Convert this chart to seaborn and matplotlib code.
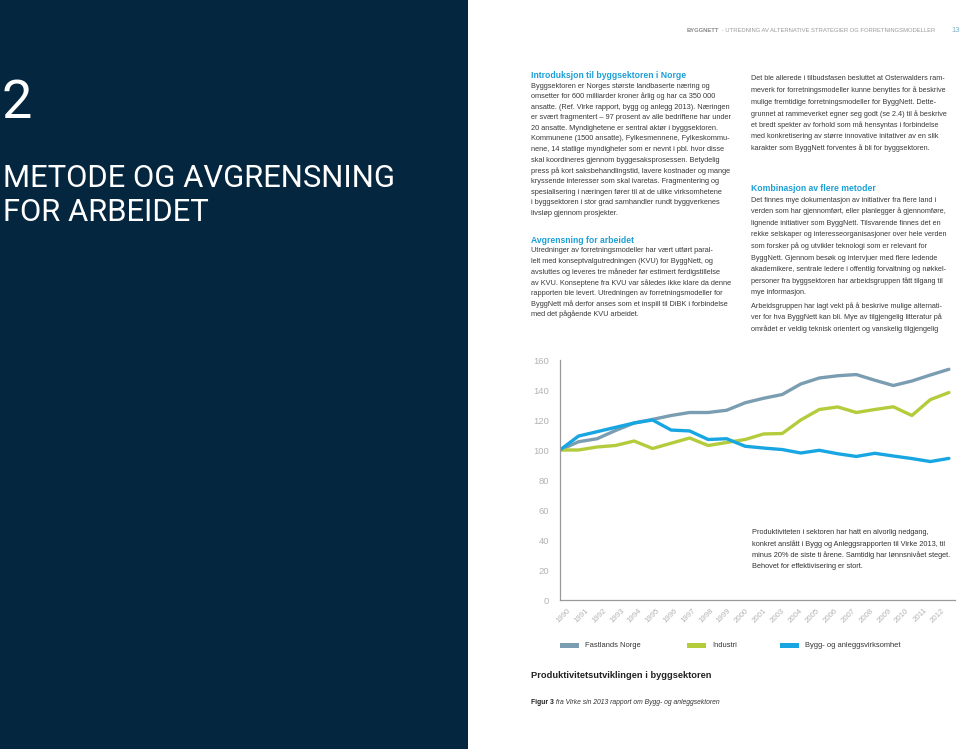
import matplotlib
matplotlib.use("Agg")
import matplotlib.pyplot as plt
from matplotlib.patches import Rectangle
import seaborn as sns
import pandas as pd
import numpy as np

# ---------------- data ----------------
years = ["1990", "1991", "1992", "1993", "1994", "1995", "1996", "1997", "1998", "1999",
         "2000", "2001", "2003", "2004", "2005", "2006", "2007", "2008", "2009", "2010",
         "2011", "2012"]
series_names = ["Fastlands Norge", "Industri", "Bygg- og anleggsvirksomhet"]
fastlands = [100, 105.5, 107.5, 113, 118, 120.4, 123, 125, 125, 126.5, 131.5, 134.5,
             137, 144, 148, 149.5, 150.3, 146.5, 143, 146, 150, 153.8]
industri = [100, 100, 102, 103, 106, 101, 104.5, 108, 103, 105, 107, 110.7,
            111, 120, 127, 128.7, 125, 127, 128.8, 123, 133.6, 138.3]
bygg = [100, 109.3, 112.2, 115.1, 118, 120, 113.3, 112.7, 107, 107.5, 102.5, 101.3,
        100.3, 98, 99.8, 97.5, 95.7, 97.8, 96, 94.3, 92.3, 94.4]
colors = ["#7b9db2", "#b4cc3c", "#18a6e2"]
yticks = [0, 20, 40, 60, 80, 100, 120, 140, 160]

W, H = 960, 749
fig = plt.figure(figsize=(9.6, 7.49), dpi=100)
sns.set_style("white")
plt.rcParams["font.family"] = ["Liberation Sans", "DejaVu Sans"]
renderer = fig.canvas.get_renderer()

def fx(x):
    return x / W

def fy(y):
    return 1 - y / H

def run_texts(x, y, parts):
    """Place several text pieces one after another on one line."""
    cur = x
    for txt, kw in parts:
        t = fig.text(fx(cur), fy(y), txt, va="center", ha="left", **kw)
        bb = t.get_window_extent(renderer=renderer)
        cur = cur + bb.width

# ---------------- left navy panel ----------------
fig.patches.append(Rectangle((0, 0), fx(468), 1, transform=fig.transFigure,
                             facecolor="#05263f", edgecolor="none", zorder=0))
fig.text(fx(2), fy(118), "2", color="white", fontsize=39, family=["Roboto", "Liberation Sans"],
         va="baseline", ha="left")
fig.text(fx(3), fy(187), "METODE OG AVGRENSNING", color="white", fontsize=22.3,
         family=["Roboto", "Liberation Sans"], va="baseline", ha="left")
fig.text(fx(3), fy(221), "FOR ARBEIDET", color="white", fontsize=22.3,
         family=["Roboto", "Liberation Sans"], va="baseline", ha="left")

# ---------------- header ----------------
run_texts(687, 30, [("BYGGNETT", dict(color="#8a8a8a", fontsize=4.25, fontweight="bold")),
                    (" - UTREDNING AV ALTERNATIVE STRATEGIER OG FORRETNINGSMODELLER",
                     dict(color="#9a9a9a", fontsize=4.25))])
fig.text(fx(951), fy(30), "13", color="#7fb3c6", fontsize=5.5, va="center", ha="left")

# ---------------- body text ----------------
blue_head = "#1c9fd6"
body_col = "#3a3a3a"

left1 = ["Byggsektoren er Norges største landbaserte næring og",
         "omsetter for 600 milliarder kroner årlig og har ca 350 000",
         "ansatte. (Ref. Virke rapport, bygg og anlegg 2013). Næringen",
         "er svært fragmentert – 97 prosent av alle bedriftene har under",
         "20 ansatte. Myndighetene er sentral aktør i byggsektoren.",
         "Kommunene (1500 ansatte), Fylkesmennene, Fylkeskommu-",
         "nene, 14 statlige myndigheter som er nevnt i pbl. hvor disse",
         "skal koordineres gjennom byggesaksprosessen. Betydelig",
         "press på kort saksbehandlingstid, lavere kostnader og mange",
         "kryssende interesser som skal ivaretas. Fragmentering og",
         "spesialisering i næringen fører til at de ulike virksomhetene",
         "i byggsektoren i stor grad samhandler rundt byggverkenes",
         "livsløp gjennom prosjekter."]
left2 = ["Utredninger av forretningsmodeller har vært utført paral-",
         "lelt med konseptvalgutredningen (KVU) for ByggNett, og",
         "avsluttes og leveres tre måneder før estimert ferdigstillelse",
         "av KVU. Konseptene fra KVU var således ikke klare da denne",
         "rapporten ble levert. Utredningen av forretningsmodeller for",
         "ByggNett må derfor anses som et inspill til DiBK i forbindelse",
         "med det pågående KVU arbeidet."]
right1 = ["Det ble allerede i tilbudsfasen besluttet at Osterwalders ram-",
          "meverk for forretningsmodeller kunne benyttes for å beskrive",
          "mulige fremtidige forretningsmodeller for ByggNett. Dette-",
          "grunnet at rammeverket egner seg godt (se 2.4) til å beskrive",
          "et bredt spekter av forhold som må hensyntas i forbindelse",
          "med konkretisering av større innovative initativer av en slik",
          "karakter som ByggNett forventes å bli for byggsektoren."]
right2 = ["Det finnes mye dokumentasjon av initiativer fra flere land i",
          "verden som har gjennomført, eller planlegger å gjennomføre,",
          "lignende initiativer som ByggNett. Tilsvarende finnes det en",
          "rekke selskaper og interesseorganisasjoner over hele verden",
          "som forsker på og utvikler teknologi som er relevant for",
          "ByggNett. Gjennom besøk og intervjuer med flere ledende",
          "akademikere, sentrale ledere i offentlig forvaltning og nøkkel-",
          "personer fra byggsektoren har arbeidsgruppen fått tilgang til",
          "mye informasjon."]
right3 = ["Arbeidsgruppen har lagt vekt på å beskrive mulige alternati-",
          "ver for hva ByggNett kan bli. Mye av tilgjengelig litteratur på",
          "området er veldig teknisk orientert og vanskelig tilgjengelig"]

def lines(x, y0, dy, txts, size=5.3, color=body_col):
    for i, t in enumerate(txts):
        fig.text(fx(x), fy(y0 + i * dy), t, fontsize=size, color=color,
                 va="center", ha="left")

fig.text(fx(531), fy(75), "Introduksjon til byggsektoren i Norge", fontsize=6.2,
         color=blue_head, fontweight="bold", va="center", ha="left")
lines(531, 86, 10.6, left1)
fig.text(fx(531), fy(240), "Avgrensning for arbeidet", fontsize=6.2,
         color=blue_head, fontweight="bold", va="center", ha="left")
lines(531, 251, 10.6, left2)

lines(751, 79, 11.6, right1, size=5.2)
fig.text(fx(751), fy(189), "Kombinasjon av flere metoder", fontsize=6.2,
         color=blue_head, fontweight="bold", va="center", ha="left")
lines(751, 200, 11.6, right2, size=5.2)
lines(751, 306, 11.6, right3, size=5.2)

# ---------------- chart ----------------
ax = fig.add_axes([fx(560), fy(600), (955 - 560) / W, 240 / H])
n = len(years)
pos = np.arange(n)
df = pd.DataFrame({
    "pos": np.tile(pos, 3),
    "value": fastlands + industri + bygg,
    "series": np.repeat(series_names, n),
})
sns.lineplot(data=df, x="pos", y="value", hue="series", hue_order=series_names,
             palette=colors, linewidth=2.4, legend=False, ax=ax)

ax.set_xlim(0, 21.33)
ax.set_ylim(0, 160)
ax.set_xlabel("")
ax.set_ylabel("")
for s in ["top", "right"]:
    ax.spines[s].set_visible(False)
for s in ["left", "bottom"]:
    ax.spines[s].set_color("#9a9a9a")
    ax.spines[s].set_linewidth(0.9)

ax.set_yticks(yticks)
ax.set_yticklabels([str(v) for v in yticks])
ax.tick_params(axis="y", direction="out", length=2.5, width=0.8, color="#9a9a9a",
               labelsize=6.8, labelcolor="#b3b3b3", pad=5.5)

tick_pos = 0.934 + 0.9615 * np.arange(n)
ax.set_xticks(tick_pos)
ax.set_xticklabels([])
ax.tick_params(axis="x", which="major", direction="inout", length=4.5, width=0.8,
               color="#9a9a9a")
ax.set_xticks(tick_pos - 0.27, minor=True)
ax.set_xticklabels(years, minor=True, rotation=45, ha="right", va="top")
ax.tick_params(axis="x", which="minor", length=0, labelsize=5.6, labelcolor="#b3b3b3",
               pad=5)
ax.set_facecolor("none")

# annotation
ann = ["Produktiviteten i sektoren har hatt en alvorlig nedgang,",
       "konkret anslått i Bygg og Anleggsrapporten til Virke 2013, til",
       "minus 20% de siste ti årene. Samtidig har lønnsnivået steget.",
       "Behovet for effektivisering er stort."]
lines(752, 533, 11, ann, size=5.3, color="#333333")

# legend
leg_patch_x = [560, 687, 780]
for name, col, px in zip(series_names, colors, leg_patch_x):
    fig.patches.append(Rectangle((fx(px), fy(648)), 19 / W, 5 / H, transform=fig.transFigure,
                                 facecolor=col, edgecolor="none"))
    fig.text(fx(px + 25), fy(645.5), name, fontsize=5.4, color="#333333",
             va="center", ha="left")

fig.text(fx(531), fy(676), "Produktivitetsutviklingen i byggsektoren", fontsize=6.7,
         fontweight="bold", color="#222222", va="center", ha="left")
run_texts(531, 702, [("Figur 3", dict(fontsize=4.85, fontweight="bold", color="#222222")),
                     (" fra Virke sin 2013 rapport om Bygg- og anleggsektoren",
                      dict(fontsize=4.85, style="italic", color="#333333"))])

fig.savefig("out.png", dpi=100)
